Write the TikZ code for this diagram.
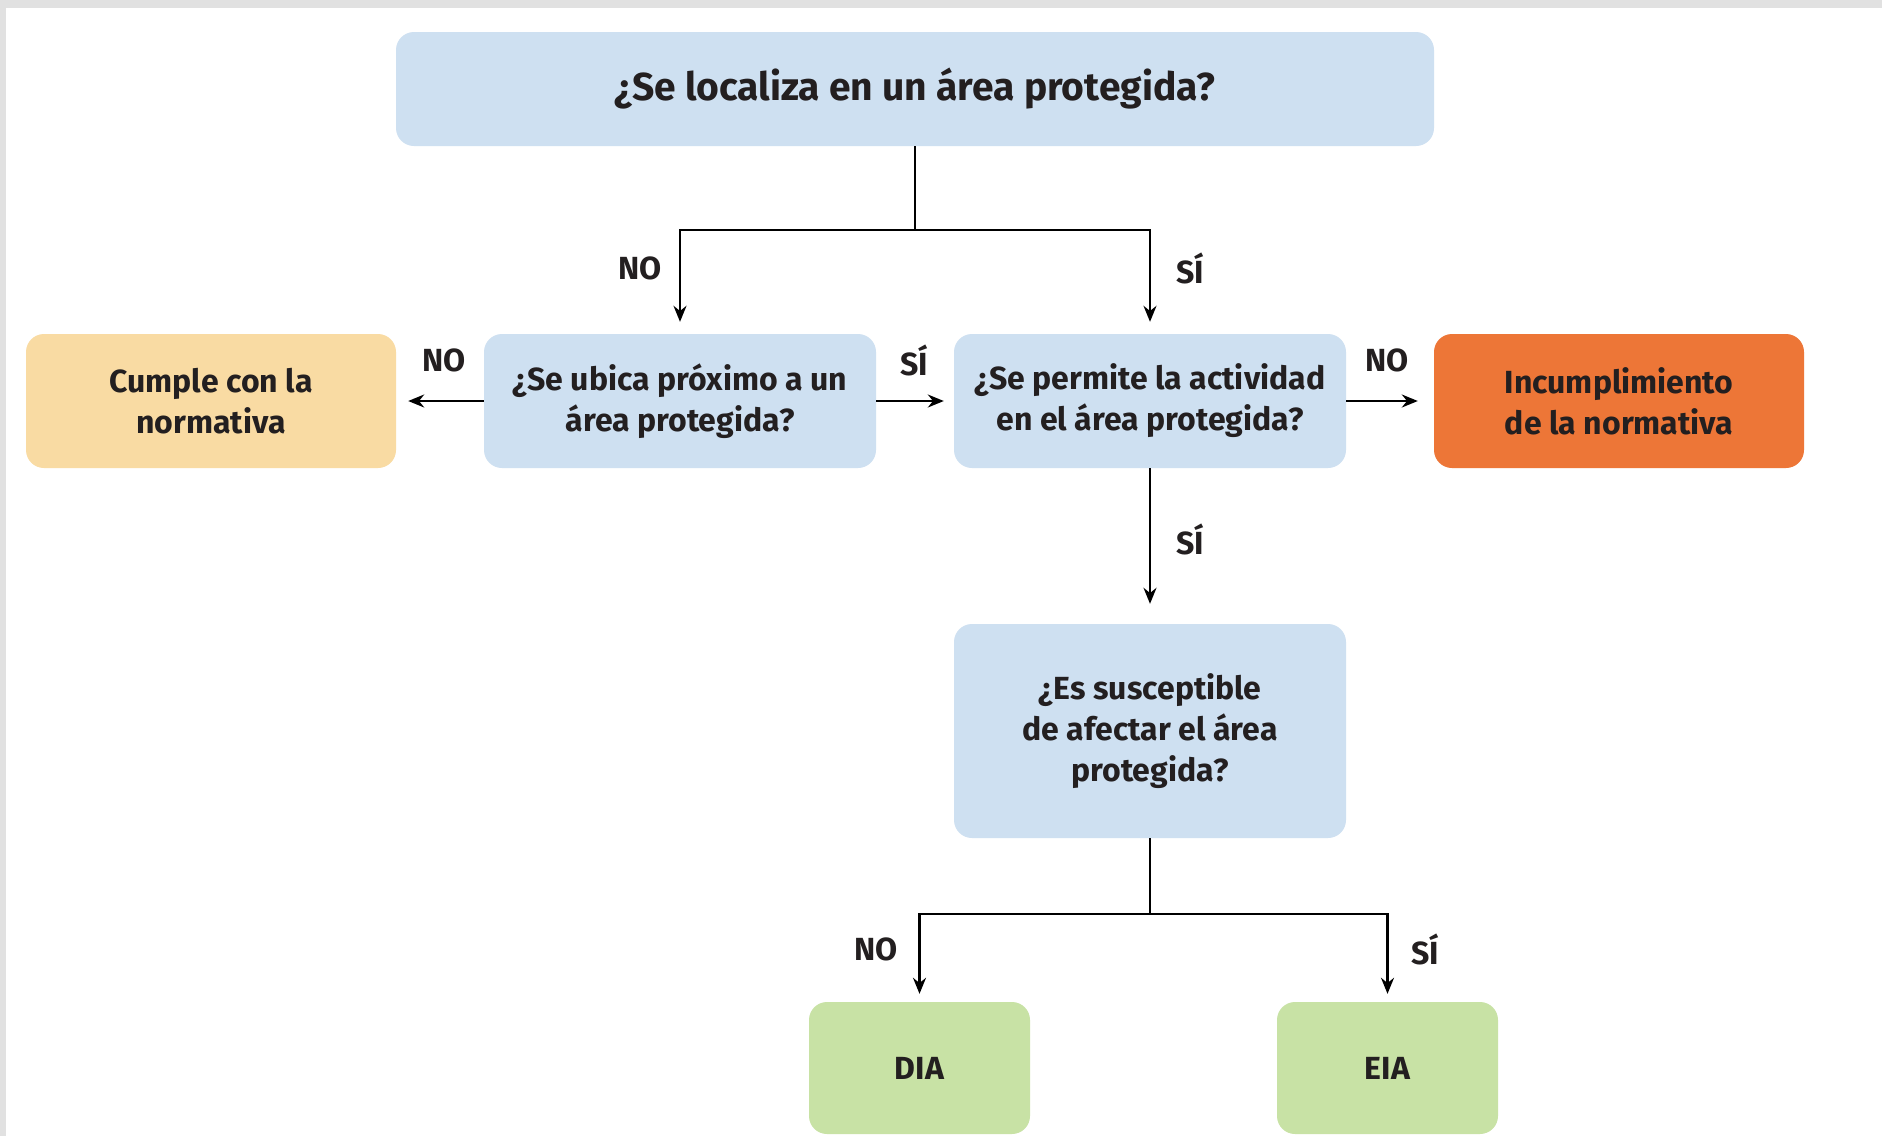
\documentclass[tikz,border=0pt]{standalone}
\usepackage{fontspec}
\setmainfont{Fira Sans}
\usetikzlibrary{arrows.meta}
\definecolor{qblue}{RGB}{206,224,241}
\definecolor{okcol}{RGB}{249,219,163}
\definecolor{badcol}{RGB}{237,118,55}
\definecolor{grn}{RGB}{200,226,165}
\definecolor{txt}{RGB}{35,31,32}
\definecolor{edge}{RGB}{225,225,225}
\begin{document}
\begin{tikzpicture}[x=1pt,y=-1pt,
  box/.style={rounded corners=18pt, inner sep=0pt, align=center, text=txt,
    font=\fontsize{32}{41}\selectfont\bfseries},
  qbox/.style={box, fill=qblue},
  lbl/.style={inner sep=0pt, text=txt, font=\fontsize{32}{41}\selectfont\bfseries},
  arr/.style={-{Stealth[length=16pt,width=13pt]}, line width=2.2pt, draw=black},
  ln/.style={line width=2.2pt, draw=black}]
\useasboundingbox (0,0) rectangle (1882,1136);
\fill[edge] (0,0) rectangle (1882,1136);
\fill[white] (6,8) rectangle (1882,1136);
% nodes
\node[qbox, minimum width=1038pt, minimum height=114pt, font=\fontsize{39}{46}\selectfont\bfseries] (top) at (915,89) {\raisebox{-3pt}{¿Se localiza en un área protegida?}};
\node[box, fill=okcol, minimum width=370pt, minimum height=134pt] (cumple) at (211,401) {Cumple con la\\normativa};
\node[qbox, minimum width=392pt, minimum height=134pt] (ubica) at (680,401) {¿Se ubica próximo a un\\área protegida?};
\node[qbox, minimum width=392pt, minimum height=134pt] (permite) at (1150,401) {¿Se permite la actividad\\en el área protegida?};
\node[box, fill=badcol, minimum width=370pt, minimum height=134pt] (incump) at (1619,401) {Incumplimiento\\de la normativa};
\node[qbox, minimum width=392pt, minimum height=214pt] (susc) at (1150,731) {¿Es susceptible\\de afectar el área\\protegida?};
\node[box, fill=grn, minimum width=221pt, minimum height=132pt] (dia) at (919.5,1068) {DIA};
\node[box, fill=grn, minimum width=221pt, minimum height=132pt] (eia) at (1387.5,1068) {EIA};
% split points
\coordinate (s1) at (top.south |- 0,230);
\coordinate (s2) at (susc.south |- 0,914);
% connectors
\draw[ln] (top.south) -- (s1);
\draw[arr, shorten >=12pt] (s1) -| (ubica.north);
\draw[arr, shorten >=12pt] (s1) -| (permite.north);
\draw[arr, shorten >=12pt] (ubica.west) -- (cumple.east);
\draw[arr, shorten >=10pt] (ubica.east) -- (permite.west);
\draw[arr, shorten >=16pt] (permite.east) -- (incump.west);
\draw[arr, shorten >=20pt] (permite.south) -- (susc.north);
\draw[ln] (susc.south) -- (s2);
\draw[arr, shorten >=8pt] (s2) -| (dia.north);
\draw[arr, shorten >=8pt] (s2) -| (eia.north);
% labels
\node[lbl] (l1) at (640,268) {NO};
\node[lbl] (l2) at (1190,268) {SÍ};
\node[lbl] (l3) at (444,360) {NO};
\node[lbl] (l4) at (914,360) {SÍ};
\node[lbl] (l5) at (1387,360) {NO};
\node[lbl] (l6) at (1190,539) {SÍ};
\node[lbl] (l7) at (876,949) {NO};
\node[lbl] (l8) at (1425,949) {SÍ};
\end{tikzpicture}
\end{document}
